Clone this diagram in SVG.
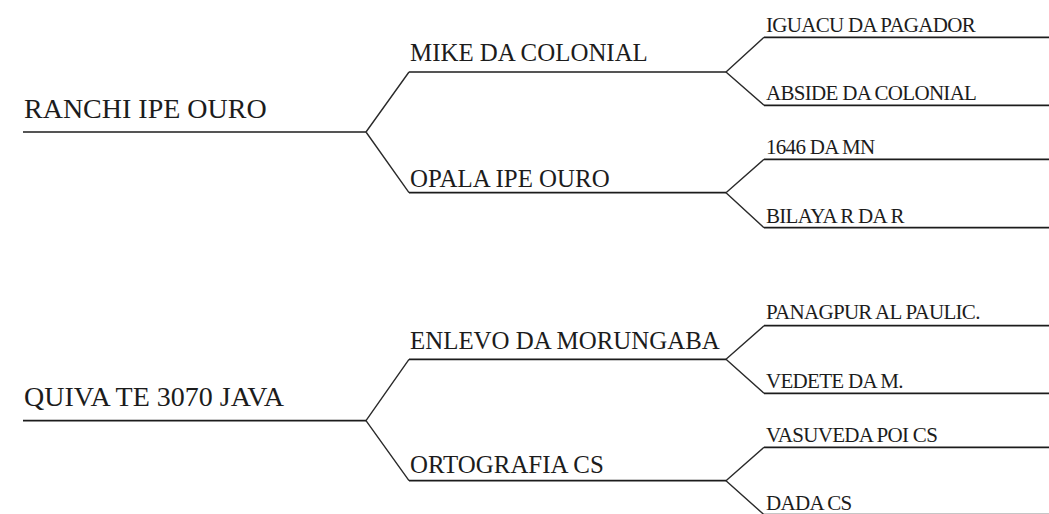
<svg xmlns="http://www.w3.org/2000/svg" width="1049" height="514" viewBox="0 0 1049 514">
<style>
.ln{stroke:#1c1c1c;stroke-width:1.7;fill:none}
.cn{stroke:#2a2a2a;stroke-width:1.4;fill:none}
text{font-family:"Liberation Serif","Times New Roman",serif;fill:#1c1c1c}
.r{font-size:28px}
.m{font-size:24.9px}
.l{font-size:21px;letter-spacing:-0.7px}
</style>
<rect width="1049" height="514" fill="#ffffff"/>
<g id="connectors">
<path class="cn" d="M366,132 L409,72 M366,132 L409,192.7"/>
<path class="cn" d="M726,72 L764,37.3 M726,72 L764,105.3"/>
<path class="cn" d="M726,192.7 L764,159.3 M726,192.7 L764,227.7"/>
<path class="cn" d="M366,420.7 L409,359.3 M366,420.7 L409,480.7"/>
<path class="cn" d="M726,359.3 L764,325.7 M726,359.3 L764,393.3"/>
<path class="cn" d="M726,480.7 L764,447.3 M726,480.7 L764,514.7"/>
</g>
<g id="n-ranchi"><path class="ln" d="M23,132H366"/><text class="r" x="24" y="118.3">RANCHI IPE OURO</text></g>
<g id="n-mike"><path class="ln" d="M409,72H726"/><text class="m" x="410" y="61">MIKE DA COLONIAL</text></g>
<g id="n-opala"><path class="ln" d="M409,192.7H726"/><text class="m" x="410" y="186.7">OPALA IPE OURO</text></g>
<g id="n-iguacu"><path class="ln" d="M764,37.3H1049"/><text class="l" x="766" y="31.7">IGUACU DA PAGADOR</text></g>
<g id="n-abside"><path class="ln" d="M764,105.3H1049"/><text class="l" x="766" y="100">ABSIDE DA COLONIAL</text></g>
<g id="n-1646"><path class="ln" d="M764,159.3H1049"/><text class="l" x="766" y="154">1646 DA MN</text></g>
<g id="n-bilaya"><path class="ln" d="M764,227.7H1049"/><text class="l" x="766" y="222.7">BILAYA R DA R</text></g>
<g id="n-quiva"><path class="ln" d="M23,420.7H366"/><text class="r" x="24" y="405.7">QUIVA TE 3070 JAVA</text></g>
<g id="n-enlevo"><path class="ln" d="M409,359.3H726"/><text class="m" x="410" y="349.3">ENLEVO DA MORUNGABA</text></g>
<g id="n-ortografia"><path class="ln" d="M409,480.7H726"/><text class="m" x="410" y="473.3">ORTOGRAFIA CS</text></g>
<g id="n-panagpur"><path class="ln" d="M764,325.7H1049"/><text class="l" x="766" y="319.3">PANAGPUR AL PAULIC.</text></g>
<g id="n-vedete"><path class="ln" d="M764,393.3H1049"/><text class="l" x="766" y="388.3">VEDETE DA M.</text></g>
<g id="n-vasuveda"><path class="ln" d="M764,447.3H1049"/><text class="l" x="766" y="441.7">VASUVEDA POI CS</text></g>
<g id="n-dada"><path class="ln" d="M764,514.7H1049"/><text class="l" x="766" y="509.5">DADA CS</text></g>
</svg>
